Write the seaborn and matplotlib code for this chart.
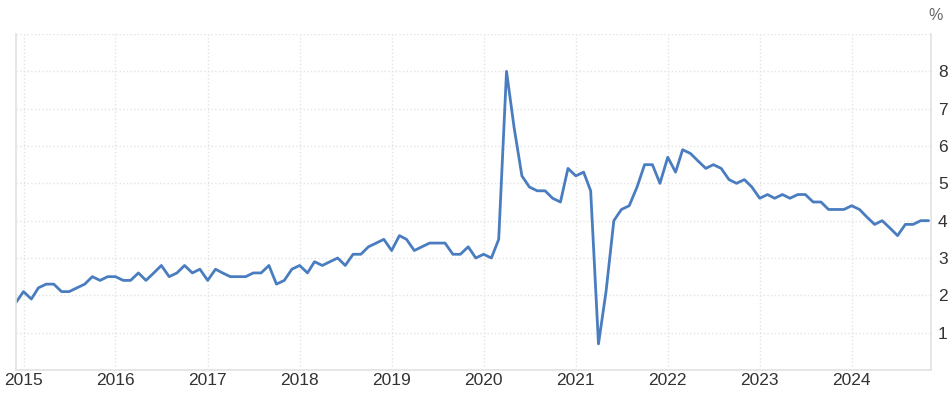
import pandas as pd
import seaborn as sns
import matplotlib.pyplot as plt
import matplotlib.dates as mdates

# monthly values, Dec 2014 .. Nov 2024 (percent)
start_month = '2014-12-01'
rate_2015 = [1.8, 2.1, 1.9, 2.2, 2.3, 2.3, 2.1, 2.1, 2.2, 2.3, 2.5, 2.4, 2.5]  # Dec14 + 2015
rate_2016 = [2.5, 2.4, 2.4, 2.6, 2.4, 2.6, 2.8, 2.5, 2.6, 2.8, 2.6, 2.7]
rate_2017 = [2.4, 2.7, 2.6, 2.5, 2.5, 2.5, 2.6, 2.6, 2.8, 2.3, 2.4, 2.7]
rate_2018 = [2.8, 2.6, 2.9, 2.8, 2.9, 3.0, 2.8, 3.1, 3.1, 3.3, 3.4, 3.5]
rate_2019 = [3.2, 3.6, 3.5, 3.2, 3.3, 3.4, 3.4, 3.4, 3.1, 3.1, 3.3, 3.0]
rate_2020 = [3.1, 3.0, 3.5, 8.0, 6.5, 5.2, 4.9, 4.8, 4.8, 4.6, 4.5, 5.4]
rate_2021 = [5.2, 5.3, 4.8, 0.7, 2.1, 4.0, 4.3, 4.4, 4.9, 5.5, 5.5, 5.0]
rate_2022 = [5.7, 5.3, 5.9, 5.8, 5.6, 5.4, 5.5, 5.4, 5.1, 5.0, 5.1, 4.9]
rate_2023 = [4.6, 4.7, 4.6, 4.7, 4.6, 4.7, 4.7, 4.5, 4.5, 4.3, 4.3, 4.3]
rate_2024 = [4.4, 4.3, 4.1, 3.9, 4.0, 3.8, 3.6, 3.9, 3.9, 4.0, 4.0]

values = (rate_2015 + rate_2016 + rate_2017 + rate_2018 + rate_2019
          + rate_2020 + rate_2021 + rate_2022 + rate_2023 + rate_2024)
dates = pd.date_range(start_month, periods=len(values), freq='MS')
df = pd.DataFrame({'date': dates, 'value': values})

y_ticks = list(range(0, 10))
y_labels = ['', '1', '2', '3', '4', '5', '6', '7', '8', '']

sns.set_style('white')
plt.rcParams['font.family'] = ['Liberation Sans', 'DejaVu Sans']

fig, ax = plt.subplots(figsize=(9.52, 4.0), dpi=100)
fig.subplots_adjust(left=0.0165, right=0.978, top=0.915, bottom=0.075)

sns.lineplot(data=df, x='date', y='value', color='#4a7dbf', linewidth=2, ax=ax)

ax.set_xlim(df['date'].iloc[0], df['date'].iloc[-1] + pd.Timedelta(days=10))
ax.set_ylim(0, 9)
ax.set_yticks(y_ticks)
ax.set_yticklabels(y_labels)
ax.yaxis.tick_right()
ax.xaxis.set_major_locator(mdates.YearLocator())
ax.xaxis.set_major_formatter(mdates.DateFormatter('%Y'))

ax.grid(True, color='#e3e3e3', linestyle=':', linewidth=1)
ax.tick_params(axis='both', length=0, labelsize=12.5, labelcolor='#333333')
ax.tick_params(axis='y', pad=5)
ax.tick_params(axis='x', pad=2)
ax.set_xlabel('')
ax.set_ylabel('')

for side in ['left', 'right', 'bottom']:
    ax.spines[side].set_color('#e2e2e2')
    ax.spines[side].set_linewidth(1.2)
ax.spines['top'].set_visible(False)

fig.text(0.975, 0.962, '%', fontsize=11.5, color='#666666', ha='left', va='center')

fig.savefig('out.png', dpi=100)
